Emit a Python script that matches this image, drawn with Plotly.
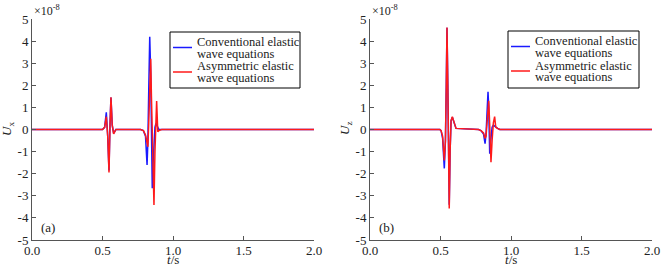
import plotly.graph_objects as go

# ---- data (values in units of 1e-8) ----
t_a = [0.0, 0.500, 0.515, 0.527, 0.537, 0.546, 0.553, 0.560, 0.569, 0.579, 0.595,
       0.770, 0.790, 0.805, 0.816, 0.822, 0.828, 0.835, 0.842, 0.847, 0.853, 0.859,
       0.865, 0.872, 0.879, 0.884, 0.892, 0.900, 0.920, 2.0]
ux_conventional = [0, 0, 0.10, 0.78, -0.30, -1.85, 0.20, 1.45, 0.20, -0.17, 0,
                   0, -0.05, -0.30, -1.60, -0.50, 1.80, 4.20, 2.50, 0.00, -2.66, -1.50,
                   -0.40, 0.10, 0.28, 0.20, 0.05, 0.00, 0, 0]
ux_asymmetric = [0, 0, 0.10, 0.58, -0.30, -1.94, 0.10, 1.46, 0.20, -0.20, 0,
                 0, -0.05, -0.25, -0.60, -0.78, 0.30, 2.30, 3.20, 1.50, -0.80, -2.50,
                 -3.42, -1.00, 1.00, 1.29, -0.10, -0.05, 0, 0]

t_b = [0.0, 0.495, 0.504, 0.515, 0.527, 0.535, 0.541, 0.546, 0.552, 0.557, 0.562,
       0.568, 0.575, 0.584, 0.595, 0.610, 0.770, 0.787, 0.805, 0.816, 0.823, 0.830,
       0.837, 0.842, 0.849, 0.853, 0.858, 0.866, 0.875, 0.884, 0.892, 0.905, 0.920,
       1.400, 1.415, 1.430, 1.520, 1.535, 1.550, 2.0]
uz_conventional = [0, 0, -0.05, -0.40, -1.76, -0.50, 2.00, 4.60, 2.00, -1.00, -3.40,
                   -1.00, 0.40, 0.55, 0.30, 0.05, 0, -0.05, -0.20, -0.64, -0.20, 0.80,
                   1.71, 1.00, -1.10, -0.80, -0.40, 0.10, 0.20, 0.15, 0.10, 0.05, 0,
                   0, 0.03, 0, 0, 0.03, 0, 0]
uz_asymmetric = [0, 0, -0.05, -0.30, -1.40, -0.50, 2.00, 4.62, 2.00, -1.00, -3.57,
                 -1.00, 0.40, 0.58, 0.30, 0.05, 0, -0.05, -0.15, -0.40, -0.30, 0.30,
                 0.60, 1.30, 0.20, -0.80, -1.48, -0.50, 0.30, 0.58, 0.10, 0.05, 0,
                 0, 0, 0, 0, 0, 0, 0]

series_names = ["Conventional elastic wave equations",
                "Asymmetric elastic wave equations"]
legend_lines = [["Conventional elastic", "wave equations"],
                ["Asymmetric elastic", "wave equations"]]
x_ticks = [0.0, 0.5, 1.0, 1.5, 2.0]
x_tick_text = ["0.0", "0.5", "1.0", "1.5", "2.0"]
y_ticks = [5, 4, 3, 2, 1, 0, -1, -2, -3, -4, -5]

FONT = "Times New Roman, Liberation Serif, DejaVu Serif, serif"
BLUE = "#1a1aff"
RED = "#ff1a1a"
COLORS = [BLUE, RED]

fig = go.Figure()
for xs, ys, xax, yax in [(t_a, [ux_conventional, ux_asymmetric], "x", "y"),
                         (t_b, [uz_conventional, uz_asymmetric], "x2", "y2")]:
    for k in range(2):
        fig.add_trace(go.Scatter(x=xs, y=ys[k], mode="lines", name=series_names[k],
                                 line=dict(color=COLORS[k], width=1.5),
                                 xaxis=xax, yaxis=yax, showlegend=False))

W, H = 662, 268
ydom = [(H - 240) / H, (H - 19) / H]
xd1 = [32 / W, 314 / W]
xd2 = [370 / W, 652 / W]

axis_common = dict(showline=True, linecolor="#555555", linewidth=1, ticks="inside",
                   ticklen=4, tickcolor="#555555", showgrid=False, zeroline=False,
                   automargin=False,
                   tickfont=dict(family=FONT, size=13, color="#222222"))

xa = dict(range=[0, 2], tickvals=x_ticks, ticktext=x_tick_text,
          ticklabelstandoff=-2, **axis_common)
ya = dict(range=[-5, 5], tickvals=y_ticks, ticktext=[str(v) for v in y_ticks], **axis_common)

fig.update_layout(
    width=W, height=H, margin=dict(l=0, r=0, t=0, b=0, autoexpand=False),
    paper_bgcolor="white", plot_bgcolor="white",
    xaxis=dict(domain=xd1, anchor="y", **xa),
    yaxis=dict(domain=ydom, anchor="x", **ya),
    xaxis2=dict(domain=xd2, anchor="y2", **xa),
    yaxis2=dict(domain=ydom, anchor="x2", **ya),
    showlegend=False,
)


def px(x):
    return x / W


def py(y):
    return 1 - y / H


ann_font = dict(family=FONT, size=13, color="#222222")
leg_font = dict(family=FONT, size=12.5, color="#222222")

# per panel: axis-left px, axes names, label, y title, legend box (x0, x1, y0, y1)
panels = [(32, "x", "y", "(a)", "<i>U</i><sub>x</sub>", (170, 300, 32, 88)),
          (370, "x2", "y2", "(b)", "<i>U</i><sub>z</sub>", (508, 639, 31, 88))]

for (x0, xname, yname, lab, ylab, box) in panels:
    fig.add_annotation(x=px(x0), y=py(1), xref="paper", yref="paper",
                       text="×10<sup>-8</sup>", showarrow=False, xanchor="left",
                       yanchor="top", font=dict(family=FONT, size=12, color="#222222"))
    fig.add_annotation(x=px(x0 - 25), y=py(129), xref="paper", yref="paper",
                       text=ylab, showarrow=False, textangle=-90,
                       xanchor="center", yanchor="middle", font=ann_font)
    fig.add_annotation(x=px(x0 + 141), y=py(268), xref="paper", yref="paper",
                       text="<i>t</i>/s", showarrow=False, borderpad=0,
                       xanchor="center", yanchor="bottom", font=ann_font)
    fig.add_annotation(x=0.05, y=-4.45, xref=xname, yref=yname, text=lab,
                       showarrow=False, xanchor="left", yanchor="middle", font=ann_font)

    # legend box
    bx0, bx1, by0, by1 = box
    fig.add_shape(type="rect", xref="paper", yref="paper",
                  x0=px(bx0), x1=px(bx1), y0=py(by0), y1=py(by1),
                  line=dict(color="black", width=1), fillcolor="white", layer="above")
    for k in range(2):
        ly = by0 + 15.5 + 24.5 * k
        fig.add_shape(type="line", xref="paper", yref="paper",
                      x0=px(bx0 + 3), x1=px(bx0 + 22), y0=py(ly), y1=py(ly),
                      line=dict(color=COLORS[k], width=1.5), layer="above")
        for j, txt in enumerate(legend_lines[k]):
            fig.add_annotation(x=px(bx0 + 26), y=py(by0 + 10 + 24.5 * k + 11.5 * j),
                               xref="paper", yref="paper", text=txt, showarrow=False,
                               xanchor="left", yanchor="middle", font=leg_font,
                               borderpad=0)

fig.write_html("out.html",
               config={"displayModeBar": False},
               post_script="document.body.style.margin='0';document.body.style.overflow='hidden';")
